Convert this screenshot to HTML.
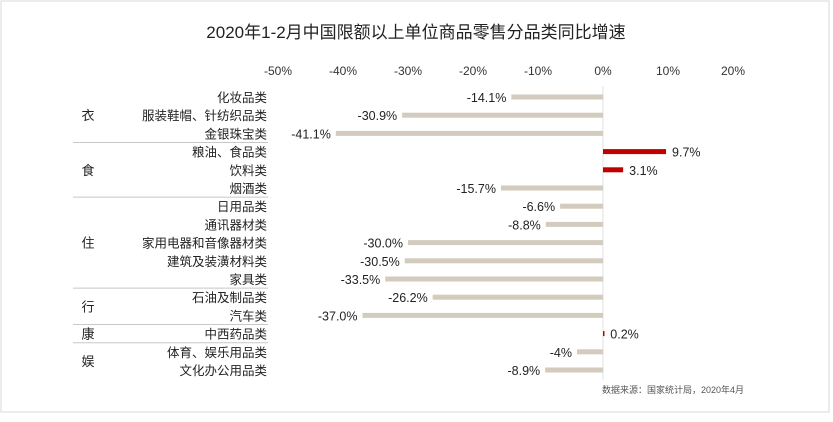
<!DOCTYPE html>
<html><head><meta charset="utf-8"><style>
body{margin:0;background:#fff;}
svg text{font-family:"Liberation Sans","Noto Sans CJK SC",sans-serif;}
</style></head><body>
<svg width="833" height="417" xmlns="http://www.w3.org/2000/svg">
<rect x="1" y="1" width="828" height="411" fill="#fff" stroke="#d8d8d8"/>
<text x="416" y="38" text-anchor="middle" font-size="17" fill="#222">2020年1-2月中国限额以上单位商品零售分品类同比增速</text>
<g id="axis"></g>
<g id="groups"></g>
<g id="bars"></g>
<text x="673" y="393" text-anchor="middle" font-size="9" fill="#555">数据来源：国家统计局，2020年4月</text>
</svg>
<script>
const categories=["化妆品类","服装鞋帽、针纺织品类","金银珠宝类","粮油、食品类","饮料类","烟酒类","日用品类","通讯器材类","家用电器和音像器材类","建筑及装潢材料类","家具类","石油及制品类","汽车类","中西药品类","体育、娱乐用品类","文化办公用品类"];
const values=[-14.1,-30.9,-41.1,9.7,3.1,-15.7,-6.6,-8.8,-30.0,-30.5,-33.5,-26.2,-37.0,0.2,-4,-8.9];
const valueLabels=["-14.1%","-30.9%","-41.1%","9.7%","3.1%","-15.7%","-6.6%","-8.8%","-30.0%","-30.5%","-33.5%","-26.2%","-37.0%","0.2%","-4%","-8.9%"];
const ticks=[-50,-40,-30,-20,-10,0,10,20];
const groupNames=["衣","食","住","行","康","娱"];
const groupSizes=[3,3,5,2,1,2];
const NS="http://www.w3.org/2000/svg";
const x=v=>603+v*6.5;
const y=i=>97+i*18.2;
function mk(tag,attrs,parent,txt){const e=document.createElementNS(NS,tag);for(const k in attrs)e.setAttribute(k,attrs[k]);if(txt!=null)e.textContent=txt;parent.appendChild(e);return e;}
const ax=document.getElementById('axis'),gr=document.getElementById('groups'),bs=document.getElementById('bars');
ticks.forEach(t=>{const e=mk('text',{x:x(t),y:75,'text-anchor':'middle','font-size':12,fill:'#333'},ax,t+'%');

});
const zl=mk('line',{x1:x(0),x2:x(0),y1:86,y2:380,stroke:'#e2e2e2'},ax);


let start=0;
groupNames.forEach((g,gi)=>{const n=groupSizes[gi];const mid=(y(start)+y(start+n-1))/2;
const t=mk('text',{x:88,y:mid+5,'text-anchor':'middle','font-size':13,fill:'#222'},gr,g);


start+=n;
if(gi<groupNames.length-1){const ly=(y(start-1)+y(start))/2;const l=mk('line',{x1:73,x2:268,y1:ly,y2:ly,stroke:'#c8c8c8'},gr);

}});
categories.forEach((c,i)=>{const cy=y(i);
const t=mk('text',{x:267,y:cy+5,'text-anchor':'end','font-size':12.5,fill:'#222'},bs,c);


const v=values[i];const x0=Math.min(x(0),x(v)),w=Math.max(Math.abs(x(v)-x(0)),1.5);
const r=mk('rect',{x:x0,y:cy-2.5,width:w,height:5,fill:v>=0?'#c00000':'#d3cbbd'},bs);


const lab=mk('text',{x:v>=0?x(v)+6:x(v)-5,y:cy+5,'text-anchor':v>=0?'start':'end','font-size':12.5,fill:'#222'},bs,valueLabels[i]);

});
</script>
</body></html>
